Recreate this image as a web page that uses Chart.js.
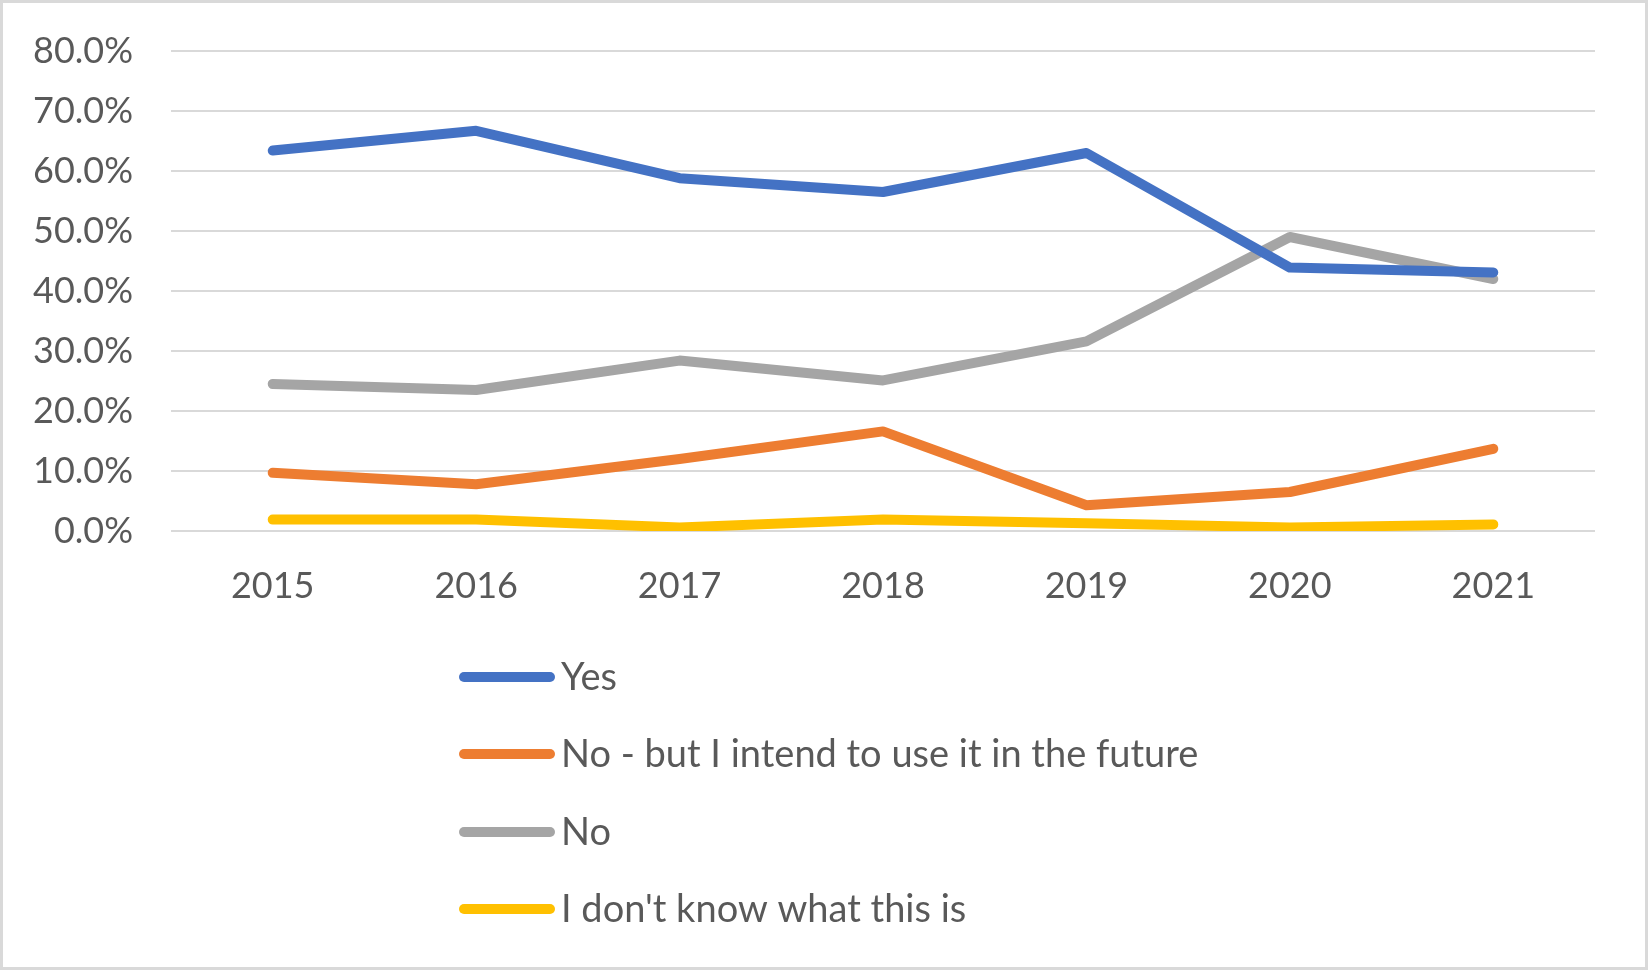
<!DOCTYPE html>
<html>
<head>
<meta charset="utf-8">
<script src="https://cdn.jsdelivr.net/npm/chart.js@4.4.1/dist/chart.umd.min.js"></script>
<style>
  html, body { margin: 0; padding: 0; background: #fff; }
  #wrap { width: 1648px; height: 970px; box-sizing: border-box; border: 3px solid #d9d9d9; background: #fff; }
  #wrap canvas { display: block; }
</style>
</head>
<body>
<div id="wrap"><canvas id="c" width="1642" height="964"></canvas></div>
<script>
const categories = ['2015', '2016', '2017', '2018', '2019', '2020', '2021'];
const seriesNames = ['Yes', 'No - but I intend to use it in the future', 'No', "I don't know what this is"];
const yesValues = [63.4, 66.7, 58.8, 56.5, 63.0, 43.9, 43.1];
const intendValues = [9.7, 7.8, 12.0, 16.6, 4.3, 6.5, 13.7];
const noValues = [24.5, 23.5, 28.4, 25.1, 31.6, 49.0, 42.0];
const dontKnowValues = [1.9, 1.9, 0.6, 1.9, 1.3, 0.6, 1.1];
const yTicks = [0, 10, 20, 30, 40, 50, 60, 70, 80];

const colors = ['#4472C4', '#ED7D31', '#A5A5A5', '#FFC000'];
const allValues = [yesValues, intendValues, noValues, dontKnowValues];
const FONT = 'Lato';
const TEXT = '#595959';

const legendPlugin = {
  id: 'vLegend',
  afterDraw(chart) {
    const ctx = chart.ctx;
    ctx.save();
    ctx.font = '38px ' + FONT;
    ctx.textBaseline = 'middle';
    ctx.textAlign = 'left';
    const ys = [674, 751, 829, 906];
    chart.data.datasets.forEach((ds, i) => {
      const y = ys[i];
      ctx.strokeStyle = ds.borderColor;
      ctx.lineWidth = 10;
      ctx.lineCap = 'round';
      ctx.beginPath();
      ctx.moveTo(461, y);
      ctx.lineTo(547, y);
      ctx.stroke();
      ctx.fillStyle = TEXT;
      ctx.fillText(ds.label, 558, y + 1);
    });
    ctx.restore();
  }
};

new Chart(document.getElementById('c'), {
  type: 'line',
  data: {
    labels: categories,
    datasets: seriesNames.map((name, i) => ({
      label: name,
      data: allValues[i],
      borderColor: colors[i],
      backgroundColor: colors[i],
      borderWidth: 10,
      borderCapStyle: 'round',
      borderJoinStyle: 'round',
      pointRadius: 0,
      pointHoverRadius: 0,
      tension: 0,
      fill: false
    }))
  },
  options: {
    responsive: false,
    animation: false,
    devicePixelRatio: 1,
    layout: { padding: { left: 0, right: 50, top: 48, bottom: 356 } },
    plugins: {
      legend: { display: false },
      tooltip: { enabled: false },
      title: { display: false }
    },
    scales: {
      x: {
        offset: true,
        grid: { display: false, drawTicks: false },
        border: { display: false },
        ticks: { color: TEXT, font: { family: FONT, size: 36 }, padding: 34, maxRotation: 0 },
        afterFit(s) { s.height = 80; s.paddingLeft = 0; s.paddingRight = 0; }
      },
      y: {
        min: 0,
        max: 80,
        afterBuildTicks(s) { s.ticks = yTicks.map(v => ({ value: v })); },
        grid: { color: '#d9d9d9', lineWidth: 2, drawTicks: false },
        border: { display: false },
        ticks: {
          color: TEXT,
          font: { family: FONT, size: 36 },
          padding: 38,
          callback: v => v.toFixed(1) + '%'
        },
        afterFit(s) { s.width = 168; s.paddingTop = 0; s.paddingBottom = 0; }
      }
    }
  },
  plugins: [legendPlugin]
});
</script>
</body>
</html>
